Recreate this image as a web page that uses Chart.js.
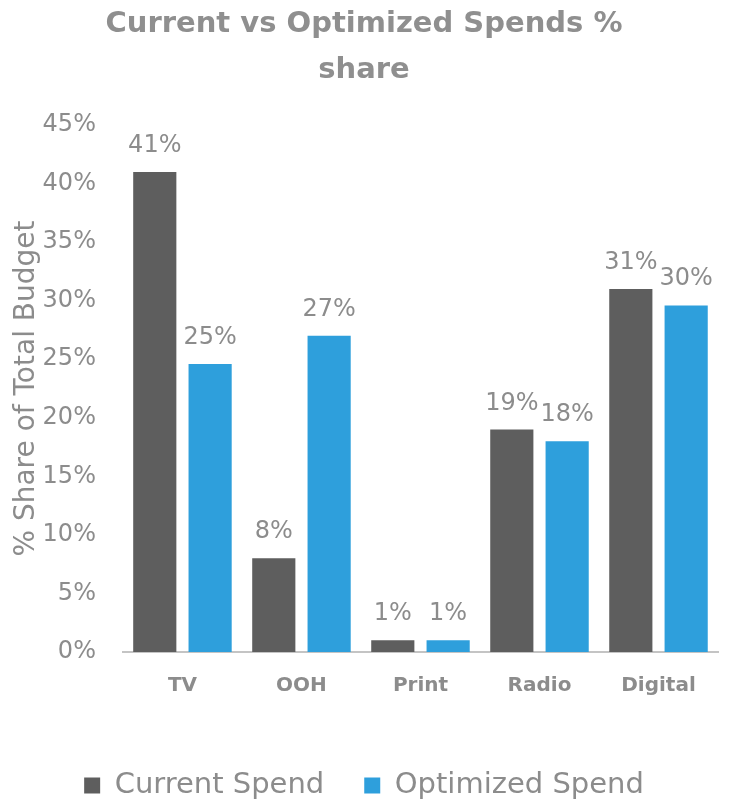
<!DOCTYPE html>
<html>
<head>
<meta charset="utf-8">
<script src="https://cdn.jsdelivr.net/npm/chart.js@4.4.1/dist/chart.umd.min.js"></script>
<style>
  html, body { margin: 0; padding: 0; background: #ffffff; }
  #wrap { width: 733px; height: 800px; }
</style>
</head>
<body>
<div id="wrap"><canvas id="spendChart"></canvas></div>
<script>
// channels and their share of total budget (%)
const channels = ['TV', 'OOH', 'Print', 'Radio', 'Digital'];
const currentSpend = [41, 8, 1, 19, 31];
const optimizedSpend = [24.6, 27, 1, 18, 29.6];
const yTicks = [0, 5, 10, 15, 20, 25, 30, 35, 40, 45];

const fontFamily = '"DejaVu Sans", sans-serif';
const textGrey = '#8c8c8c';

// value labels above each bar
const barLabels = {
  id: 'barLabels',
  afterDatasetsDraw(chart) {
    const ctx = chart.ctx;
    ctx.save();
    ctx.font = '24px ' + fontFamily;
    ctx.fillStyle = textGrey;
    ctx.textAlign = 'center';
    ctx.textBaseline = 'alphabetic';
    chart.data.datasets.forEach((ds, i) => {
      chart.getDatasetMeta(i).data.forEach((bar, j) => {
        ctx.fillText(Math.round(ds.data[j]) + '%', bar.x, bar.y - 20);
      });
    });
    ctx.restore();
  }
};

const ctx = document.getElementById('spendChart').getContext('2d');
const myChart = new Chart(ctx, {
  type: 'bar',
  data: {
    labels: channels,
    datasets: [
      {
        label: 'Current Spend',
        data: currentSpend,
        backgroundColor: '#5e5e5e',
        barPercentage: 0.78,
        categoryPercentage: 0.93
      },
      {
        label: 'Optimized Spend',
        data: optimizedSpend,
        backgroundColor: '#2e9fdc',
        barPercentage: 0.78,
        categoryPercentage: 0.93
      }
    ]
  },
  options: {
    responsive: true,
    maintainAspectRatio: false,
    animation: false,
    layout: {
      padding: { left: 10, right: 15, top: 0, bottom: -10 }
    },
    plugins: {
      tooltip: { enabled: false },
      title: {
        display: true,
        text: ['Current vs Optimized Spends %', 'share'],
        color: '#8f8f8f',
        font: { family: fontFamily, size: 29, weight: 'bold', lineHeight: 1.57 },
        padding: { top: 2, bottom: 32 }
      },
      legend: {
        position: 'bottom',
        labels: {
          color: textGrey,
          font: { family: fontFamily, size: 29 },
          boxWidth: 16,
          boxHeight: 16,
          padding: 40
        }
      }
    },
    scales: {
      x: {
        grid: { display: false, drawTicks: false },
        border: { display: true, color: '#c4c4c4', width: 2 },
        ticks: {
          color: textGrey,
          font: { family: fontFamily, size: 20, weight: 'bold' },
          padding: 22
        },
        afterFit: function(scale) {
          scale.height += 11;
        }
      },
      y: {
        min: 0,
        max: 45,
        grid: { display: false, drawTicks: false },
        border: { display: false },
        afterBuildTicks: function(scale) {
          scale.ticks = yTicks.map(v => ({ value: v }));
        },
        afterFit: function(scale) {
          scale.width -= 28;
        },
        ticks: {
          color: textGrey,
          font: { family: fontFamily, size: 24 },
          padding: 27,
          callback: function(value) {
            return value + '%';
          }
        },
        title: {
          display: true,
          text: '% Share of Total Budget',
          color: textGrey,
          font: { family: fontFamily, size: 28 },
          padding: 0
        }
      }
    }
  },
  plugins: [barLabels]
});
</script>
</body>
</html>
